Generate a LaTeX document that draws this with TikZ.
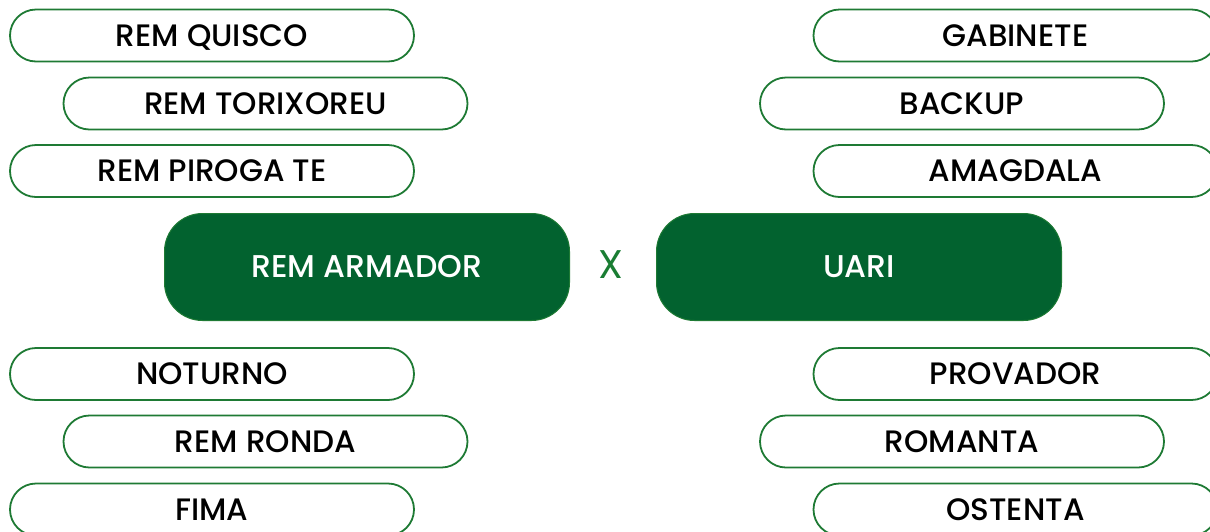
\documentclass[tikz,border=0pt]{standalone}
\usepackage{fontspec}
\setmainfont{Poppins}[UprightFont=* Medium]
\newfontfamily\xfont{Poppins}
\definecolor{pillgreen}{HTML}{1E7A34}
\definecolor{boxgreen}{HTML}{02622F}
\definecolor{xgreen}{HTML}{1A7D33}
\tikzset{
  pill/.style={draw=pillgreen, line width=1.8pt, rounded corners=26pt, minimum width=404pt, minimum height=52pt, inner sep=0pt, text height=21pt, text depth=0pt, font=\fontsize{31}{31}\selectfont, text=black},
  bigbox/.style={draw=pillgreen, fill=boxgreen, line width=1pt, rounded corners=38pt, minimum width=405pt, minimum height=107pt, inner sep=0pt, text height=21pt, text depth=0pt, font=\fontsize{31.5}{31.5}\selectfont, text=white},
}
\begin{document}
\begin{tikzpicture}[x=1pt,y=-1pt]
\useasboundingbox (0,0) rectangle (1210,531);
\node[pill] (q) at (212,35.5) {REM QUISCO};
\node[pill] (t) at (265.5,103.5) {REM TORIXOREU};
\node[pill] (p) at (212,171) {REM PIROGA TE};
\node[pill] (g) at (1015.5,35.5) {GABINETE};
\node[pill] (b) at (962,103.5) {BACKUP};
\node[pill] (a) at (1015.5,171) {AMAGDALA};
\node[bigbox] (ra) at (367,267) {REM ARMADOR};
\node[bigbox] (u) at (859,267) {UARI};
\node[text=xgreen, inner sep=0pt, text height=26pt, text depth=0pt, font=\xfont\fontsize{40}{40}\selectfont] (x) at (611,265) {X};
\node[pill] (n) at (212,374) {NOTURNO};
\node[pill] (r) at (265.5,441.5) {REM RONDA};
\node[pill] (f) at (212,509.5) {FIMA};
\node[pill] (pr) at (1015.5,374) {PROVADOR};
\node[pill] (ro) at (962,441.5) {ROMANTA};
\node[pill] (o) at (1015.5,509.5) {OSTENTA};
\end{tikzpicture}
\end{document}
